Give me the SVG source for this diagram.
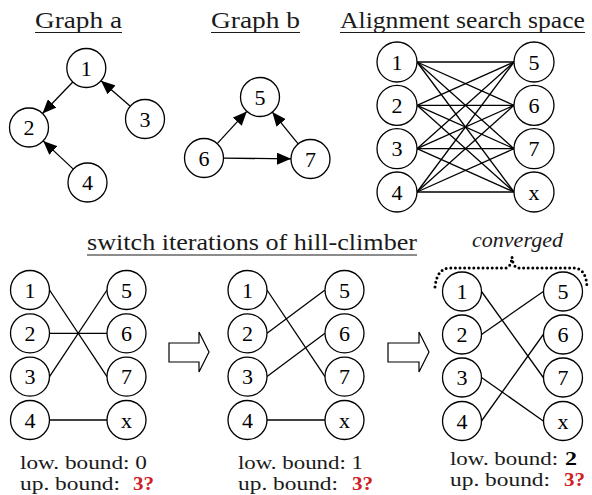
<svg xmlns="http://www.w3.org/2000/svg" width="592" height="495" viewBox="0 0 592 495">
  <style>
    text { font-family: "Liberation Serif", "Times New Roman", Times, "DejaVu Serif", serif; }
    .node circle { fill: #ffffff; stroke: #000000; stroke-width: 1.3; }
    .node text { font-size: 22px; text-anchor: middle; fill: #000000; }
    .edge { stroke: #000000; stroke-width: 1.3; fill: none; }
    .title { font-size: 24px; fill: #1a1a1a; }
    .rule { stroke: #1a1a1a; stroke-width: 1.2; }
    .note { font-size: 19px; fill: #1a1a1a; }
    .red { font-size: 19px; font-weight: bold; fill: #d0201f; }
    .bold { font-size: 19px; font-weight: bold; fill: #000000; }
    .italic { font-size: 21px; font-style: italic; fill: #1a1a1a; }
    .step { fill: #ffffff; stroke: #000000; stroke-width: 1.2; }
  </style>
  <defs>
    <marker id="head" markerUnits="userSpaceOnUse" markerWidth="14" markerHeight="12" refX="14" refY="6" orient="auto">
      <path d="M0,0 L14,6 L0,12 z" fill="#000000"/>
    </marker>
  </defs>
  <rect width="592" height="495" fill="#ffffff"/>

  <!-- headings -->
  <g id="titles">
    <text class="title" x="35" y="28" textLength="87" lengthAdjust="spacingAndGlyphs">Graph a</text>
    <line class="rule" x1="35" y1="32.5" x2="122" y2="32.5"/>
    <text class="title" x="211" y="28" textLength="89" lengthAdjust="spacingAndGlyphs">Graph b</text>
    <line class="rule" x1="211" y1="32.5" x2="300" y2="32.5"/>
    <text class="title" x="340" y="28" textLength="245" lengthAdjust="spacingAndGlyphs">Alignment search space</text>
    <line class="rule" x1="340" y1="32.5" x2="585" y2="32.5"/>
    <text class="title" x="87" y="250" textLength="330" lengthAdjust="spacingAndGlyphs">switch iterations of hill-climber</text>
    <line class="rule" x1="87" y1="255" x2="417" y2="255"/>
  </g>

  <!-- connectors -->
  <g id="connectors">
    <!-- graph a -->
    <line class="edge" x1="72.8" y1="82" x2="42.5" y2="113.5" marker-end="url(#head)"/>
    <line class="edge" x1="130.3" y1="106.2" x2="101" y2="80.8" marker-end="url(#head)"/>
    <line class="edge" x1="73.3" y1="169.1" x2="43.2" y2="140.9" marker-end="url(#head)"/>
    <!-- graph b -->
    <line class="edge" x1="217.2" y1="143.6" x2="246.8" y2="111.4" marker-end="url(#head)"/>
    <line class="edge" x1="298.2" y1="143.9" x2="272.3" y2="112.1" marker-end="url(#head)"/>
    <line class="edge" x1="223.5" y1="158.2" x2="291" y2="158.8" marker-end="url(#head)"/>
    <!-- complete bipartite search space -->
    <g id="search-edges">
      <line class="edge" x1="417" y1="62" x2="514" y2="62"/>
      <line class="edge" x1="417" y1="62" x2="514" y2="105.3"/>
      <line class="edge" x1="417" y1="62" x2="514" y2="148.7"/>
      <line class="edge" x1="417" y1="62" x2="514" y2="192"/>
      <line class="edge" x1="417" y1="105.3" x2="514" y2="62"/>
      <line class="edge" x1="417" y1="105.3" x2="514" y2="105.3"/>
      <line class="edge" x1="417" y1="105.3" x2="514" y2="148.7"/>
      <line class="edge" x1="417" y1="105.3" x2="514" y2="192"/>
      <line class="edge" x1="417" y1="148.7" x2="514" y2="62"/>
      <line class="edge" x1="417" y1="148.7" x2="514" y2="105.3"/>
      <line class="edge" x1="417" y1="148.7" x2="514" y2="148.7"/>
      <line class="edge" x1="417" y1="148.7" x2="514" y2="192"/>
      <line class="edge" x1="417" y1="192" x2="514" y2="62"/>
      <line class="edge" x1="417" y1="192" x2="514" y2="105.3"/>
      <line class="edge" x1="417" y1="192" x2="514" y2="148.7"/>
      <line class="edge" x1="417" y1="192" x2="514" y2="192"/>
    </g>
    <!-- iteration 1: 1-7, 2-6, 3-5, 4-x -->
    <line class="edge" x1="49.5" y1="290" x2="107" y2="376.6"/>
    <line class="edge" x1="49.5" y1="333.3" x2="107" y2="333.3"/>
    <line class="edge" x1="49.5" y1="376.6" x2="107" y2="290"/>
    <line class="edge" x1="49.5" y1="420" x2="107" y2="420"/>
    <!-- iteration 2: 1-7, 2-5, 3-6, 4-x -->
    <line class="edge" x1="267" y1="290" x2="325" y2="376.6"/>
    <line class="edge" x1="267" y1="333.3" x2="325" y2="290"/>
    <line class="edge" x1="267" y1="376.6" x2="325" y2="333.3"/>
    <line class="edge" x1="267" y1="420" x2="325" y2="420"/>
    <!-- converged: 1-7, 2-5, 3-x, 4-6 -->
    <line class="edge" x1="481.5" y1="291.5" x2="543.3" y2="377.5"/>
    <line class="edge" x1="481.5" y1="334.5" x2="543.3" y2="291.5"/>
    <line class="edge" x1="481.5" y1="377.5" x2="543.3" y2="421"/>
    <line class="edge" x1="481.5" y1="421" x2="543.3" y2="334.5"/>
  </g>

  <!-- graph a nodes -->
  <g id="a1" class="node"><circle cx="86.3" cy="68" r="19.5"/><text x="86.3" y="75.5">1</text></g>
  <g id="a2" class="node"><circle cx="29" cy="127.5" r="19.5"/><text x="29" y="135">2</text></g>
  <g id="a3" class="node"><circle cx="145" cy="119" r="19.5"/><text x="145" y="126.5">3</text></g>
  <g id="a4" class="node"><circle cx="87.5" cy="182.5" r="19.5"/><text x="87.5" y="190">4</text></g>

  <!-- graph b nodes -->
  <g id="b5" class="node"><circle cx="260" cy="97" r="19.5"/><text x="260" y="104.5">5</text></g>
  <g id="b6" class="node"><circle cx="204" cy="158" r="19.5"/><text x="204" y="165.5">6</text></g>
  <g id="b7" class="node"><circle cx="310.5" cy="159" r="19.5"/><text x="310.5" y="166.5">7</text></g>

  <!-- search space nodes -->
  <g id="s1" class="node"><circle cx="397" cy="62" r="20"/><text x="397" y="69.5">1</text></g>
  <g id="s2" class="node"><circle cx="397" cy="105.3" r="20"/><text x="397" y="112.8">2</text></g>
  <g id="s3" class="node"><circle cx="397" cy="148.7" r="20"/><text x="397" y="156.2">3</text></g>
  <g id="s4" class="node"><circle cx="397" cy="192" r="20"/><text x="397" y="199.5">4</text></g>
  <g id="s5" class="node"><circle cx="534" cy="62" r="20"/><text x="534" y="69.5">5</text></g>
  <g id="s6" class="node"><circle cx="534" cy="105.3" r="20"/><text x="534" y="112.8">6</text></g>
  <g id="s7" class="node"><circle cx="534" cy="148.7" r="20"/><text x="534" y="156.2">7</text></g>
  <g id="sx" class="node"><circle cx="534" cy="192" r="20"/><text x="534" y="199.5">x</text></g>

  <!-- iteration 1 nodes -->
  <g id="p1n1" class="node"><circle cx="30" cy="290" r="19.5"/><text x="30" y="297.5">1</text></g>
  <g id="p1n2" class="node"><circle cx="30" cy="333.3" r="19.5"/><text x="30" y="340.8">2</text></g>
  <g id="p1n3" class="node"><circle cx="30" cy="376.6" r="19.5"/><text x="30" y="384.1">3</text></g>
  <g id="p1n4" class="node"><circle cx="30" cy="420" r="19.5"/><text x="30" y="427.5">4</text></g>
  <g id="p1n5" class="node"><circle cx="126.5" cy="290" r="19.5"/><text x="126.5" y="297.5">5</text></g>
  <g id="p1n6" class="node"><circle cx="126.5" cy="333.3" r="19.5"/><text x="126.5" y="340.8">6</text></g>
  <g id="p1n7" class="node"><circle cx="126.5" cy="376.6" r="19.5"/><text x="126.5" y="384.1">7</text></g>
  <g id="p1nx" class="node"><circle cx="126.5" cy="420" r="19.5"/><text x="126.5" y="427.5">x</text></g>

  <!-- iteration 2 nodes -->
  <g id="p2n1" class="node"><circle cx="247.5" cy="290" r="19.5"/><text x="247.5" y="297.5">1</text></g>
  <g id="p2n2" class="node"><circle cx="247.5" cy="333.3" r="19.5"/><text x="247.5" y="340.8">2</text></g>
  <g id="p2n3" class="node"><circle cx="247.5" cy="376.6" r="19.5"/><text x="247.5" y="384.1">3</text></g>
  <g id="p2n4" class="node"><circle cx="247.5" cy="420" r="19.5"/><text x="247.5" y="427.5">4</text></g>
  <g id="p2n5" class="node"><circle cx="344.5" cy="290" r="19.5"/><text x="344.5" y="297.5">5</text></g>
  <g id="p2n6" class="node"><circle cx="344.5" cy="333.3" r="19.5"/><text x="344.5" y="340.8">6</text></g>
  <g id="p2n7" class="node"><circle cx="344.5" cy="376.6" r="19.5"/><text x="344.5" y="384.1">7</text></g>
  <g id="p2nx" class="node"><circle cx="344.5" cy="420" r="19.5"/><text x="344.5" y="427.5">x</text></g>

  <!-- converged nodes -->
  <g id="p3n1" class="node"><circle cx="462" cy="291.5" r="19.5"/><text x="462" y="299">1</text></g>
  <g id="p3n2" class="node"><circle cx="462" cy="334.5" r="19.5"/><text x="462" y="342">2</text></g>
  <g id="p3n3" class="node"><circle cx="462" cy="377.5" r="19.5"/><text x="462" y="385">3</text></g>
  <g id="p3n4" class="node"><circle cx="462" cy="421" r="19.5"/><text x="462" y="428.5">4</text></g>
  <g id="p3n5" class="node"><circle cx="563" cy="291.5" r="19.5"/><text x="563" y="299">5</text></g>
  <g id="p3n6" class="node"><circle cx="563" cy="334.5" r="19.5"/><text x="563" y="342">6</text></g>
  <g id="p3n7" class="node"><circle cx="563" cy="377.5" r="19.5"/><text x="563" y="385">7</text></g>
  <g id="p3nx" class="node"><circle cx="563" cy="421" r="19.5"/><text x="563" y="428.5">x</text></g>

  <!-- step arrows between iterations -->
  <g id="step1"><polygon class="step" points="169,343 199,343 199,332 209,352 199,372 199,362 169,362"/></g>
  <g id="step2"><polygon class="step" points="388,343 419,343 419,332 429,352 419,372 419,362 388,362"/></g>

  <!-- converged brace -->
  <g id="brace">
    <path d="M435,287 Q437,268 450,268 L505,268 Q511,268 512,257 Q513,268 519,268 L574,268 Q586,268 587,287" fill="none" stroke="#000000" stroke-width="3" stroke-linecap="round" stroke-dasharray="0 4.6"/>
    <text class="italic" x="472" y="247" textLength="91" lengthAdjust="spacingAndGlyphs">converged</text>
  </g>

  <!-- bounds -->
  <g id="bounds1">
    <text class="note" x="20" y="469" textLength="127" lengthAdjust="spacingAndGlyphs">low. bound: 0</text>
    <text class="note" x="20" y="490" textLength="100" lengthAdjust="spacingAndGlyphs">up. bound:</text>
    <text class="red" x="133" y="490" textLength="21" lengthAdjust="spacingAndGlyphs">3?</text>
  </g>
  <g id="bounds2">
    <text class="note" x="238" y="469" textLength="125" lengthAdjust="spacingAndGlyphs">low. bound: 1</text>
    <text class="note" x="238" y="490" textLength="100" lengthAdjust="spacingAndGlyphs">up. bound:</text>
    <text class="red" x="352" y="490" textLength="21" lengthAdjust="spacingAndGlyphs">3?</text>
  </g>
  <g id="bounds3">
    <text class="note" x="450" y="464.5" textLength="108" lengthAdjust="spacingAndGlyphs">low. bound:</text>
    <text class="bold" x="565" y="464.5" textLength="12" lengthAdjust="spacingAndGlyphs">2</text>
    <text class="note" x="450" y="485.5" textLength="100" lengthAdjust="spacingAndGlyphs">up. bound:</text>
    <text class="red" x="564" y="485.5" textLength="21" lengthAdjust="spacingAndGlyphs">3?</text>
  </g>
</svg>
